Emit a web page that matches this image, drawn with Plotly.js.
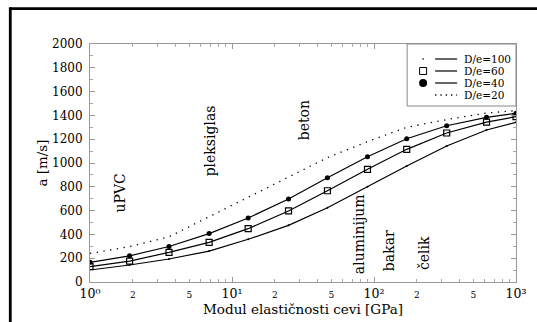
<!DOCTYPE html>
<html>
<head>
<meta charset="utf-8">
<script src="https://cdn.plot.ly/plotly-3.0.1.min.js"></script>
<style>html,body{margin:0;padding:0;background:#fff;}#chart{width:537px;height:322px;}</style>
</head>
<body>
<div id="chart"></div>
<script>
// Modulus of elasticity [GPa]
const modulus = [1, 1.9, 3.6, 6.9, 13, 25, 47, 90, 170, 325, 620, 1000];
// Wave speed a [m/s] for each D/e ratio
const a_De100 = [101, 143, 193, 260, 359, 476, 624, 801, 975, 1143, 1277, 1342];
const a_De60  = [129, 176, 249, 333, 448, 597, 767, 947, 1115, 1252, 1344, 1389];
const a_De40  = [165, 220, 298, 407, 538, 697, 876, 1053, 1204, 1313, 1384, 1418];
const a_De20  = [240, 297, 380, 548, 712, 880, 1045, 1180, 1300, 1365, 1420, 1440];
const seriesNames = ['D/e=100', 'D/e=60', 'D/e=40', 'D/e=20'];
const xMajorVals = [1, 10, 100, 1000];
const xMajorText = ['10⁰', '10¹', '10²', '10³'];
const xSubVals = [2, 5, 20, 50, 200, 500];
const xSubText = ['2', '5', '2', '5', '2', '5'];
const materials = ['uPVC', 'pleksiglas', 'beton', 'aluminijum', 'bakar', 'čelik'];

const FONT = 'DejaVu Serif, serif';
const W = 537, H = 322;
const M = {l: 89.5, r: 21, t: 44, b: 40};
const PW = W - M.l - M.r, PH = H - M.t - M.b;
const px = x => (x - M.l) / PW;
const py = y => (H - M.b - y) / PH;

const minorVals = [];
[1, 10, 100].forEach(d => { for (let k = 2; k <= 9; k++) minorVals.push(k * d); });

const traces = [
  {x: modulus, y: a_De100, name: seriesNames[0], mode: 'lines+markers',
   line: {color: '#000', width: 1.2}, marker: {symbol: 'circle', size: 2, color: '#000'}},
  {x: modulus, y: a_De60, name: seriesNames[1], mode: 'lines+markers',
   line: {color: '#000', width: 1.2}, marker: {symbol: 'square-open', size: 6, color: '#000', line: {width: 1.2}}},
  {x: modulus, y: a_De40, name: seriesNames[2], mode: 'lines+markers',
   line: {color: '#000', width: 1.2}, marker: {symbol: 'circle', size: 5, color: '#000'}},
  {x: modulus, y: a_De20, name: seriesNames[3], mode: 'lines',
   line: {color: '#000', width: 1.3, dash: '1.3px,5.5px'}},
  // invisible trace carrying the secondary (2, 5) tick labels
  {x: [1, 1000], y: [0, 0], xaxis: 'x2', mode: 'markers', marker: {opacity: 0}, hoverinfo: 'skip', showlegend: false}
];

// legend built from shapes + annotations
const rowY = [59, 71, 83, 95];
const shapes = [
  {type: 'line', xref: 'paper', yref: 'paper', x0: px(9.5), x1: px(560), y0: py(8.7), y1: py(8.7), line: {color: '#000', width: 2.8}},
  {type: 'line', xref: 'paper', yref: 'paper', x0: px(9.7), x1: px(9.7), y0: py(7.3), y1: py(340), line: {color: '#000', width: 2.8}},
  {type: 'rect', xref: 'paper', yref: 'paper', x0: px(407), x1: 1, y0: py(106), y1: 1, line: {color: '#888', width: 1}, fillcolor: '#fff'}
];
const annotations = [];
seriesNames.forEach((nm, i) => {
  const yy = py(rowY[i]);
  if (i === 0) {
    shapes.push({type: 'circle', xref: 'paper', yref: 'paper', xsizemode: 'pixel', ysizemode: 'pixel',
      xanchor: px(423), yanchor: yy, x0: -1, x1: 1, y0: -1, y1: 1, fillcolor: '#666', line: {width: 0}});
  } else if (i === 1) {
    shapes.push({type: 'rect', xref: 'paper', yref: 'paper', xsizemode: 'pixel', ysizemode: 'pixel',
      xanchor: px(423), yanchor: yy, x0: -3.5, x1: 3.5, y0: -3.5, y1: 3.5, fillcolor: '#fff', line: {color: '#000', width: 1}});
  } else if (i === 2) {
    shapes.push({type: 'circle', xref: 'paper', yref: 'paper', xsizemode: 'pixel', ysizemode: 'pixel',
      xanchor: px(423), yanchor: yy, x0: -4, x1: 4, y0: -4, y1: 4, fillcolor: '#000', line: {width: 0}});
  }
  shapes.push({type: 'line', xref: 'paper', yref: 'paper', x0: px(435), x1: px(457), y0: yy, y1: yy,
    line: {color: '#000', width: i === 3 ? 1.3 : 1.2, dash: i === 3 ? '1.3px,4px' : 'solid'}});
  annotations.push({xref: 'paper', yref: 'paper', x: px(462), y: yy, xanchor: 'left', yanchor: 'middle',
    text: nm, showarrow: false, font: {family: FONT, size: 10.5, color: '#000'}});
});

const matPos = [[120, 193], [210, 141], [304, 120], [359, 234], [389, 251], [424, 253]];
materials.forEach((m, i) => {
  annotations.push({xref: 'paper', yref: 'paper', x: px(matPos[i][0]), y: py(matPos[i][1]),
    xanchor: 'center', yanchor: 'middle', textangle: -90, text: m, showarrow: false,
    font: {family: FONT, size: 14, color: '#000'}});
});

const layout = {
  width: W, height: H, margin: M, paper_bgcolor: '#fff', plot_bgcolor: '#fff',
  showlegend: false,
  font: {family: FONT, color: '#000', size: 12},
  xaxis: {
    type: 'log', range: [0, 3], tickvals: xMajorVals, ticktext: xMajorText,
    ticks: 'inside', ticklen: 5, tickcolor: '#999', tickwidth: 1,
    showline: true, linecolor: '#999', linewidth: 1, mirror: 'ticks', showgrid: false, zeroline: false,
    tickfont: {family: FONT, size: 12.5, color: '#000'},
    minor: {tickvals: minorVals, ticks: 'inside', ticklen: 3, tickcolor: '#aaa', showgrid: false},
    title: {text: 'Modul elastičnosti cevi [GPa]', font: {family: FONT, size: 13.5, color: '#000'}, standoff: 2}
  },
  xaxis2: {
    type: 'log', range: [0, 3], overlaying: 'x', side: 'bottom', anchor: 'y',
    tickvals: xSubVals, ticktext: xSubText, ticks: '', showline: false, showgrid: false, zeroline: false,
    tickfont: {family: FONT, size: 9, color: '#000'}, ticklabelstandoff: 6
  },
  yaxis: {
    range: [0, 2000], dtick: 200, tick0: 0,
    ticks: 'inside', ticklen: 5, tickcolor: '#999', tickwidth: 1,
    showline: true, linecolor: '#999', linewidth: 1, mirror: 'ticks', showgrid: false, zeroline: false,
    tickfont: {family: FONT, size: 12, color: '#000'}, ticklabelstandoff: 4,
    minor: {dtick: 100, ticks: 'inside', ticklen: 3, tickcolor: '#aaa', showgrid: false},
    title: {text: 'a [m/s]', font: {family: FONT, size: 13.5, color: '#000'}, standoff: 1}
  },
  shapes: shapes,
  annotations: annotations
};

Plotly.newPlot('chart', traces, layout, {displayModeBar: false, staticPlot: true});
</script>
</body>
</html>
